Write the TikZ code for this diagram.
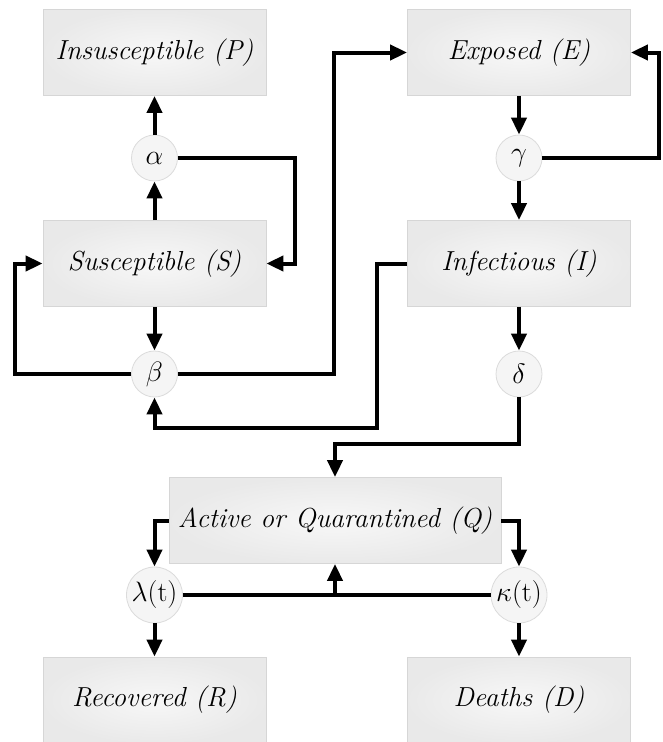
\RequirePackage{fix-cm}
\documentclass[tikz,border=0pt]{standalone}
\usetikzlibrary{arrows.meta}
\begin{document}
\begin{tikzpicture}[x=1pt,y=-1pt]
\tikzset{
 box/.style={draw=gray!32, line width=0.8pt, inner sep=0pt, minimum width=223pt, minimum height=86pt,
   inner color=gray!6, outer color=gray!17, font=\fontsize{27.5}{32}\selectfont\itshape},
 rate/.style={circle, draw=gray!28, line width=0.8pt, fill=gray!8, inner sep=0pt, minimum size=46pt,
   font=\fontsize{28}{30}\selectfont},
 arr/.style={line width=4pt, -{Triangle[length=17pt,width=15pt]}},
 ln/.style={line width=4pt},
}
\useasboundingbox (0,0) rectangle (662,742);
% boxes
\node[box] (P) at (154.5,52.5) {Insusceptible (P)};
\node[box] (E) at (519,52.5) {Exposed (E)};
\node[box] (S) at (154.5,263.5) {Susceptible (S)};
\node[box] (I) at (519,263.5) {Infectious (I)};
\node[box, minimum width=332pt] (Q) at (335,520.5) {Active or Quarantined (Q)};
\node[box] (R) at (154.5,700) {Recovered (R)};
\node[box] (D) at (519,700) {Deaths (D)};
% rates
\node[rate] (alpha) at (154.5,158) {$\alpha$};
\node[rate] (gamma) at (519,158) {$\gamma$};
\node[rate] (beta) at (154.5,374) {$\beta$};
\node[rate] (delta) at (519,374) {$\delta$};
\node[rate, minimum size=56pt] (lambda) at (154.5,595) {$\lambda$(t)};
\node[rate, minimum size=56pt] (kappa) at (519,595) {$\kappa$(t)};
% helper coordinates
\coordinate (c1) at (295,158);
\coordinate (c2) at (15,374);
\coordinate (c3) at (377,428);
\coordinate (c4) at (335,444);
\coordinate (c5) at (334,374);
\coordinate (c6) at (659,158);
\coordinate (mid) at (335,595);
% connectors
\draw[arr] (S.north) -- (alpha.south);
\draw[arr] (alpha.north) -- (P.south);
\draw[arr] (alpha.east) -- (c1) |- (S.east);
\draw[arr] (S.south) -- (beta.north);
\draw[arr] (beta.west) -- (c2) |- (S.west);
\draw[arr] (beta.east) -- (c5) |- (E.west);
\draw[arr] (E.south) -- (gamma.north);
\draw[arr] (gamma.south) -- (I.north);
\draw[arr] (gamma.east) -- (c6) |- (E.east);
\draw[arr] (I.west) -| (c3) -| (beta.south);
\draw[arr] (I.south) -- (delta.north);
\draw[arr] (delta.south) |- (c4) -- (Q.north);
\draw[arr] (Q.west) -| (lambda.north);
\draw[arr] (Q.east) -| (kappa.north);
\draw[arr] (lambda.south) -- (R.north);
\draw[arr] (kappa.south) -- (D.north);
\draw[ln] (lambda.east) -- (kappa.west);
\draw[arr] (mid) -- (Q.south);
\end{tikzpicture}
\end{document}
